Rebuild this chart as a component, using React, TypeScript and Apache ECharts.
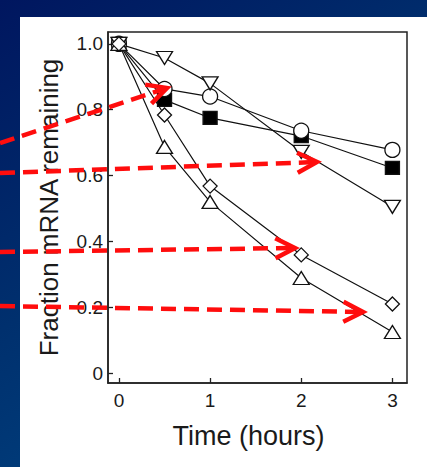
import React, { useEffect, useRef } from "react";
import * as echarts from "echarts";

// Time points (hours)
const times = [0, 0.5, 1, 2, 3];
// Fraction mRNA remaining for each construct
const circleValues = [1.0, 0.863, 0.84, 0.736, 0.678];
const squareValues = [1.0, 0.83, 0.775, 0.72, 0.623];
const triDownValues = [1.0, 0.957, 0.88, 0.672, 0.505];
const diamondValues = [1.0, 0.784, 0.568, 0.359, 0.21];
const triUpValues = [1.0, 0.687, 0.52, 0.289, 0.125];

const xTicks = [0, 1, 2, 3];
const yTicks = [0, 0.2, 0.4, 0.6, 0.8, 1.0];

const xTitle = "Time (hours)";
const yTitle = "Fraction mRNA remaining";

// Red dashed annotation arrows (pixel coordinates: start -> tip)
const arrows = [
  { from: [0, 143], to: [167, 88] },
  { from: [0, 173], to: [317, 162] },
  { from: [0, 252], to: [295, 248] },
  { from: [0, 306], to: [363, 312] },
];

const FONT = "'Liberation Sans', Arial, Helvetica, sans-serif";
const INK = "#1a1a1a";
const RED = "#ff0d0d";

const TRI_DOWN = "path://M0,0 L10,0 L5,9 Z";
const TRI_UP = "path://M5,0 L10,9 L0,9 Z";

export default function App() {
  const ref = useRef<HTMLDivElement>(null);

  useEffect(() => {
    if (!ref.current) return;
    const chart = echarts.init(ref.current, null, { renderer: "svg" });

    const pts = (vals: number[]) => times.map((t, i) => [t, vals[i]]);

    const lineSeries = (vals: number[]) => ({
      type: "line",
      data: pts(vals),
      symbol: "none",
      lineStyle: { color: "#111", width: 1.2 },
      z: 2,
      silent: true,
    });

    const markerSeries = (vals: number[], symbol: string, size: any, fill: string, firstFill?: string) => ({
      type: "scatter",
      data: pts(vals).map((p, i) =>
        i === 0 && firstFill ? { value: p, itemStyle: { color: firstFill } } : p
      ),
      symbol,
      symbolSize: size,
      itemStyle: { color: fill, borderColor: "#111", borderWidth: 1.3, opacity: 1 },
      z: 3,
      silent: true,
    });

    const graphics: any[] = [];
    arrows.forEach((a) => {
      const [x1, y1] = a.from;
      const [x2, y2] = a.to;
      const ang = Math.atan2(y2 - y1, x2 - x1);
      const len = 22;
      const half = (27 * Math.PI) / 180;
      const back = ang + Math.PI;
      const p1 = [x2 + len * Math.cos(back + half), y2 + len * Math.sin(back + half)];
      const p2 = [x2 + len * Math.cos(back - half), y2 + len * Math.sin(back - half)];
      graphics.push({
        type: "line",
        shape: { x1, y1, x2: x2 - 3 * Math.cos(ang), y2: y2 - 3 * Math.sin(ang) },
        style: { stroke: RED, lineWidth: 4.5, lineDash: [15, 8] },
        z: 100,
        silent: true,
      });
      graphics.push({
        type: "polyline",
        shape: { points: [p1, [x2, y2], p2] },
        style: { stroke: RED, lineWidth: 4.5, fill: null, lineJoin: "miter" },
        z: 100,
        silent: true,
      });
    });

    const option: any = {
      animation: false,
      backgroundColor: "transparent",
      grid: {
        left: 108,
        right: 20,
        top: 32,
        bottom: 84,
        show: true,
        borderColor: "#222",
        borderWidth: 1.5,
        backgroundColor: "transparent",
      },
      xAxis: {
        type: "value",
        min: -0.12,
        max: 3.16,
        name: xTitle,
        nameLocation: "middle",
        nameGap: 39,
        nameTextStyle: { fontSize: 27, fontFamily: FONT, color: INK, padding: [0, 18, 0, 0] },
        axisLine: { show: true, onZero: false, lineStyle: { color: "#222", width: 1.5 } },
        axisTick: { show: true, inside: true, length: 5, customValues: xTicks, lineStyle: { color: "#222", width: 1.3 } },
        axisLabel: {
          customValues: xTicks,
          fontSize: 19,
          fontFamily: FONT,
          color: INK,
          margin: 8,
          formatter: (v: number) => String(v),
        },
        splitLine: { show: false },
      },
      yAxis: {
        type: "value",
        min: -0.03,
        max: 1.036,
        name: yTitle,
        nameLocation: "middle",
        nameGap: 46,
        nameTextStyle: { fontSize: 26, fontFamily: FONT, color: INK },
        axisLine: { show: true, onZero: false, lineStyle: { color: "#222", width: 1.5 } },
        axisTick: { show: true, inside: true, length: 5, customValues: yTicks, lineStyle: { color: "#222", width: 1.3 } },
        axisLabel: {
          customValues: yTicks,
          fontSize: 19,
          fontFamily: FONT,
          color: INK,
          margin: 5,
          formatter: (v: number) => (v === 0 ? "0" : v.toFixed(1)),
        },
        splitLine: { show: false },
      },
      series: [
        lineSeries(squareValues),
        lineSeries(circleValues),
        lineSeries(triDownValues),
        lineSeries(triUpValues),
        lineSeries(diamondValues),
        markerSeries(squareValues, "rect", [14, 13], "#000", "#fff"),
        markerSeries(circleValues, "circle", 15, "#fff"),
        markerSeries(triDownValues, TRI_DOWN, [16, 13], "#fff"),
        markerSeries(triUpValues, TRI_UP, [16, 13], "#fff"),
        markerSeries(diamondValues, "diamond", [14, 14], "#fff"),
      ],
      graphic: graphics,
    };

    chart.setOption(option);
    return () => chart.dispose();
  }, []);

  return (
    <div
      style={{
        position: "fixed",
        left: 0,
        top: 0,
        width: 427,
        height: 467,
        background: "linear-gradient(148deg, #00165f 0%, #00306e 45%, #004a88 100%)",
        overflow: "hidden",
      }}
    >
      <div style={{ position: "absolute", left: 20, top: 17, right: 0, bottom: 0, background: "#ffffff" }} />
      <div ref={ref} style={{ position: "absolute", left: 0, top: 0, width: 427, height: 467 }} />
    </div>
  );
}
